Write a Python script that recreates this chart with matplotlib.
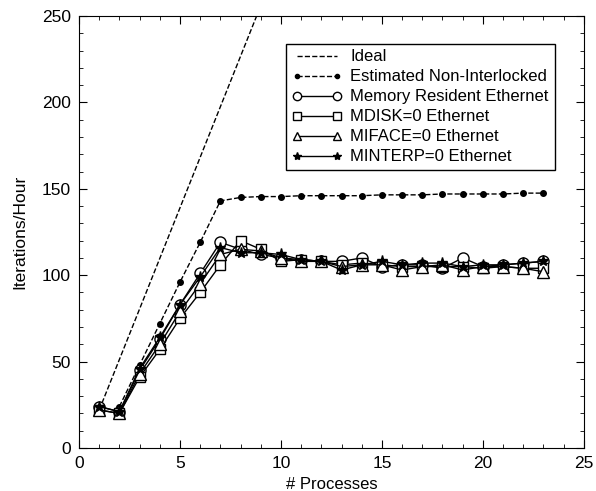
import matplotlib
matplotlib.use("Agg")
import matplotlib.pyplot as plt
from matplotlib.ticker import MultipleLocator

plt.rcParams['font.family'] = ['Liberation Sans', 'DejaVu Sans']

procs = list(range(1, 24))

ideal_x = [1, 9]
ideal_y = [22, 256]

est_x = list(range(2, 24))
est_y = [24, 48, 72, 96, 119, 143, 145, 145.5, 145.5, 146, 146, 146, 146, 146.5,
         146.5, 146.5, 147, 147, 147, 147, 147.5, 147.5]

mem_res = [24, 21, 45, 63, 83, 101, 119, 115, 112, 110, 109, 108, 108, 110, 105,
           106, 106, 104, 110, 105, 106, 107, 108]
mdisk = [22, 20, 41, 57, 75, 90, 106, 120, 115, 108, 109, 108, 106, 107, 106,
         105, 105, 105, 105, 104, 105, 104, 104]
miface = [22, 20, 43, 60, 79, 95, 112, 115, 114, 110, 108, 108, 105, 106, 106,
          103, 105, 106, 103, 105, 105, 104, 102]
minterp = [24, 21, 46, 64, 83, 99, 116, 113, 113, 112, 109, 108, 103, 106, 108,
           106, 107, 107, 105, 106, 106, 107, 108]

fig = plt.figure(figsize=(5.96, 4.91), dpi=100)
ax = fig.add_axes([0.1326, 0.0876, 0.847, 0.8798])

ax.plot(ideal_x, ideal_y, 'k--', lw=1, label='Ideal')
ax.plot(est_x, est_y, 'k--', lw=1, marker='o', ms=4, label='Estimated Non-Interlocked')
ax.plot(procs, mem_res, 'k-', lw=1, marker='o', ms=8, mfc='white', mec='black',
        label='Memory Resident Ethernet')
ax.plot(procs, mdisk, 'k-', lw=1, marker='s', ms=7, mfc='white', mec='black',
        label='MDISK=0 Ethernet')
ax.plot(procs, miface, 'k-', lw=1, marker='^', ms=8, mfc='white', mec='black',
        label='MIFACE=0 Ethernet')
ax.plot(procs, minterp, 'k-', lw=1, marker='*', ms=8, mfc='black', mec='black',
        label='MINTERP=0 Ethernet')

ax.set_xlim(0, 25)
ax.set_ylim(0, 250)
ax.xaxis.set_major_locator(MultipleLocator(5))
ax.xaxis.set_minor_locator(MultipleLocator(1))
ax.yaxis.set_major_locator(MultipleLocator(50))
ax.yaxis.set_minor_locator(MultipleLocator(10))
ax.tick_params(which='both', direction='in', top=True, right=True, labelsize=12.5)
ax.tick_params(which='major', length=6, pad=6)
ax.tick_params(which='minor', length=3)
ax.set_xlabel('# Processes', fontsize=12)
ax.set_ylabel('Iterations/Hour', fontsize=12.5, labelpad=10)

leg = ax.legend(loc='upper right', bbox_to_anchor=(0.942, 0.936), fontsize=12,
                numpoints=2, markerscale=0.75, handlelength=3.0, handletextpad=0.5,
                labelspacing=0.3, borderpad=0.35, borderaxespad=0, fancybox=False,
                framealpha=1, edgecolor='black')
leg.get_frame().set_linewidth(1)

fig.savefig('out.png', dpi=100)
